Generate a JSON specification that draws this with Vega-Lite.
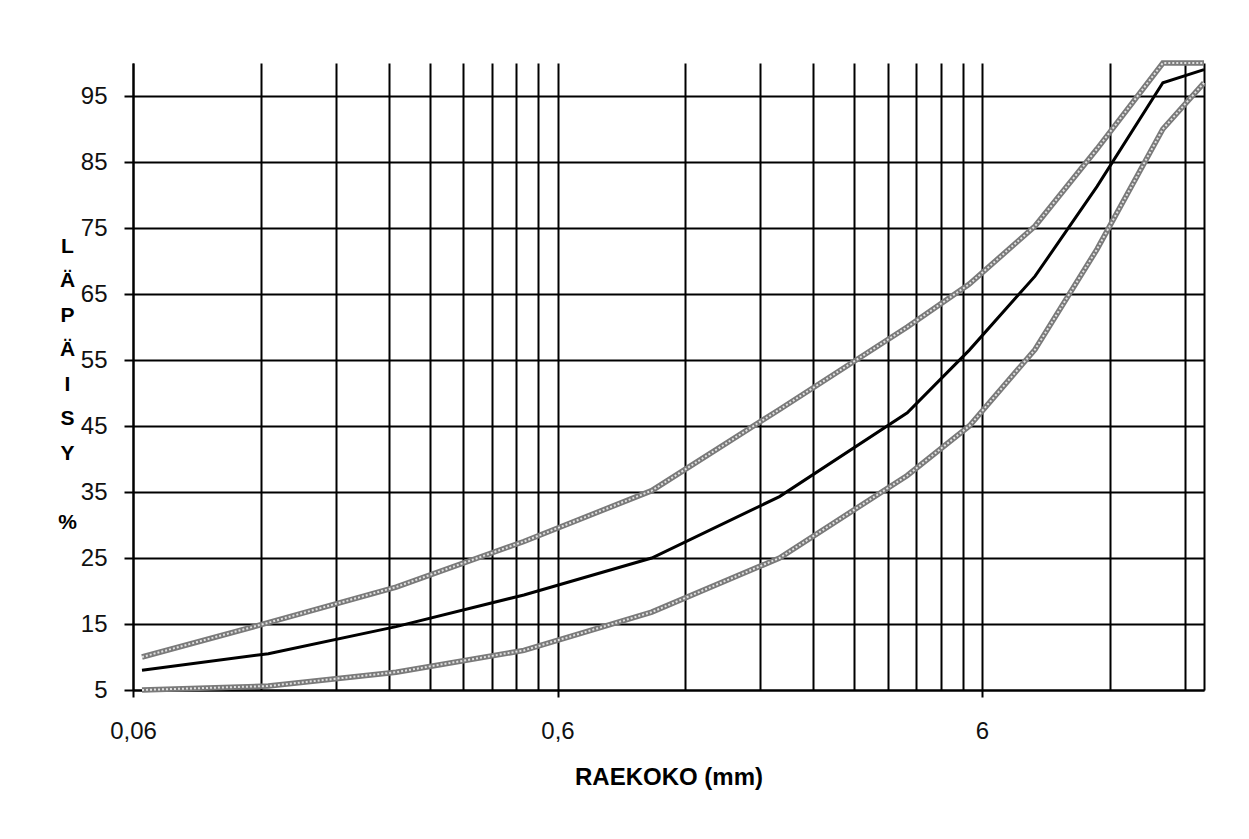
{
  "$schema": "https://vega.github.io/schema/vega-lite/v6.json",
  "width": 1071,
  "height": 627,
  "autosize": {"type": "none"},
  "padding": {"left": 133, "top": 63, "right": 45, "bottom": 149},
  "background": "white",
  "config": {"view": {"stroke": null}, "font": "Liberation Sans"},
  "data": {
    "values": [
      {"s": "ylä", "x": 0.063, "y": 10},
      {"s": "ylä", "x": 0.125, "y": 15.2},
      {"s": "ylä", "x": 0.25, "y": 20.6},
      {"s": "ylä", "x": 0.5, "y": 27.5},
      {"s": "ylä", "x": 1, "y": 35.2},
      {"s": "ylä", "x": 2, "y": 47.5},
      {"s": "ylä", "x": 4, "y": 60},
      {"s": "ylä", "x": 5.6, "y": 66.5},
      {"s": "ylä", "x": 8, "y": 75.3},
      {"s": "ylä", "x": 11.2, "y": 87},
      {"s": "ylä", "x": 16, "y": 100},
      {"s": "ylä", "x": 20, "y": 100},
      {"s": "keski", "x": 0.063, "y": 8},
      {"s": "keski", "x": 0.125, "y": 10.5},
      {"s": "keski", "x": 0.25, "y": 14.6},
      {"s": "keski", "x": 0.5, "y": 19.4},
      {"s": "keski", "x": 1, "y": 25},
      {"s": "keski", "x": 2, "y": 34.3},
      {"s": "keski", "x": 4, "y": 47},
      {"s": "keski", "x": 5.6, "y": 56.5},
      {"s": "keski", "x": 8, "y": 67.7},
      {"s": "keski", "x": 11.2, "y": 81.3},
      {"s": "keski", "x": 16, "y": 97},
      {"s": "keski", "x": 20, "y": 99},
      {"s": "ala", "x": 0.063, "y": 5},
      {"s": "ala", "x": 0.125, "y": 5.6},
      {"s": "ala", "x": 0.25, "y": 7.7},
      {"s": "ala", "x": 0.5, "y": 11},
      {"s": "ala", "x": 1, "y": 16.8},
      {"s": "ala", "x": 2, "y": 25},
      {"s": "ala", "x": 4, "y": 37.5},
      {"s": "ala", "x": 5.6, "y": 45},
      {"s": "ala", "x": 8, "y": 56.6},
      {"s": "ala", "x": 11.2, "y": 71.8},
      {"s": "ala", "x": 16, "y": 90},
      {"s": "ala", "x": 20, "y": 97}
    ]
  },
  "encoding": {
    "x": {
      "field": "x",
      "type": "quantitative",
      "scale": {"type": "log", "domain": [0.06, 20], "nice": false},
      "axis": {
        "values": [0.06, 0.12, 0.18, 0.24, 0.3, 0.36, 0.42, 0.48, 0.54, 0.6, 1.2, 1.8, 2.4, 3, 3.6, 4.2, 4.8, 5.4, 6, 12, 18, 20],
        "grid": true,
        "gridColor": "black",
        "gridWidth": 2,
        "gridOpacity": 1,
        "domain": true,
        "domainColor": "black",
        "domainWidth": 2,
        "ticks": true,
        "tickSize": 7,
        "tickWidth": 2,
        "tickColor": "black",
        "tickOpacity": {"condition": {"test": "datum.value == 0.06 || datum.value == 0.6 || datum.value == 6", "value": 1}, "value": 0},
        "labelExpr": "datum.value == 0.06 ? '0,06' : datum.value == 0.6 ? '0,6' : datum.value == 6 ? '6' : ''",
        "labelFontSize": 24,
        "labelColor": "#111111",
        "labelPadding": 22,
        "labelFlush": false,
        "labelOverlap": false,
        "title": "RAEKOKO (mm)",
        "titleFontSize": 24,
        "titleFontWeight": "bold",
        "titleColor": "black",
        "titleY": 75,
        "titleBaseline": "top"
      }
    },
    "y": {
      "field": "y",
      "type": "quantitative",
      "scale": {"domain": [5, 100], "nice": false, "zero": false},
      "axis": {
        "values": [5, 15, 25, 35, 45, 55, 65, 75, 85, 95],
        "grid": true,
        "gridColor": "black",
        "gridWidth": 2,
        "gridOpacity": 1,
        "domainColor": "black",
        "domainWidth": 2,
        "tickSize": 9,
        "tickWidth": 2,
        "tickColor": "black",
        "labelFontSize": 24,
        "labelColor": "#111111",
        "labelPadding": 17,
        "labelOverlap": false,
        "title": ["L", "Ä", "P", "Ä", "I", "S", "Y", "\u2800", "%"],
        "titleAngle": 0,
        "titleFontSize": 21,
        "titleFontWeight": "bold",
        "titleColor": "black",
        "titleLineHeight": 34.5,
        "titleX": -66,
        "titleY": 183,
        "titleAlign": "center",
        "titleBaseline": "middle"
      }
    }
  },
  "layer": [
    {
      "transform": [{"filter": "datum.s != 'keski'"}],
      "mark": {"type": "line", "color": "#7a7a7a", "strokeWidth": 5.5},
      "encoding": {"detail": {"field": "s"}}
    },
    {
      "transform": [{"filter": "datum.s != 'keski'"}],
      "mark": {"type": "line", "color": "#e0e0e0", "strokeWidth": 2, "strokeDash": [2, 2]},
      "encoding": {"detail": {"field": "s"}}
    },
    {
      "transform": [{"filter": "datum.s == 'keski'"}],
      "mark": {"type": "line", "color": "black", "strokeWidth": 3},
      "encoding": {}
    }
  ]
}
